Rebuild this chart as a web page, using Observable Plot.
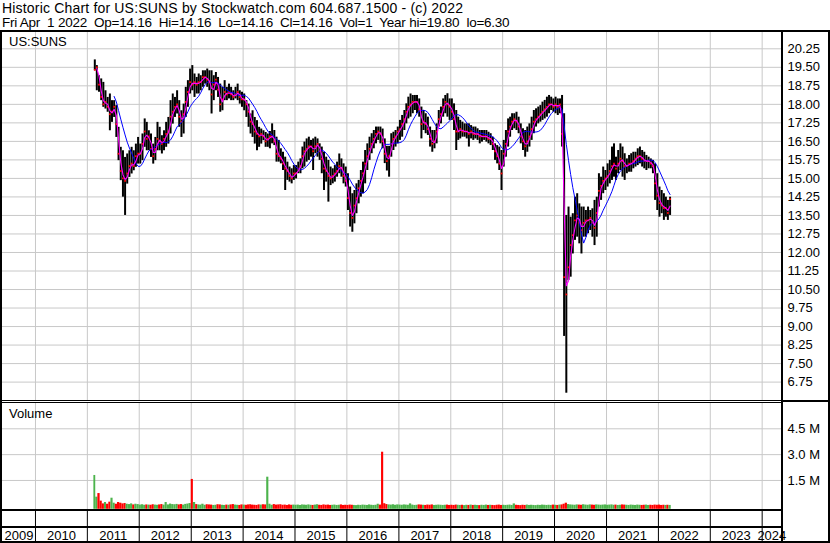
<!DOCTYPE html>
<html>
<head>
<meta charset="utf-8">
<script src="https://cdn.jsdelivr.net/npm/d3@7"></script>
<script src="https://cdn.jsdelivr.net/npm/@observablehq/plot@0.6"></script>
<style>
html,body{margin:0;padding:0;background:#fff;overflow:hidden;}
#wrap{position:relative;width:830px;height:543px;overflow:hidden;background:#fff;
  font-family:"Liberation Sans",Arial,sans-serif;color:#000;}
.txt{position:absolute;font-size:13px;line-height:15px;white-space:pre;color:#000;}
.hdr{position:absolute;line-height:16px;white-space:pre;color:#000;}
.ln{position:absolute;background:#000;}
.panel{position:absolute;left:0;}
.panel svg{display:block;overflow:visible;}
</style>
</head>
<body>
<div id="wrap">
  <div class="hdr" style="left:2px;top:0px;font-size:14px;letter-spacing:0.18px">Historic Chart for US:SUNS by Stockwatch.com 604.687.1500 - (c) 2022</div>
  <div class="hdr" style="left:2px;top:15px;font-size:13.5px;letter-spacing:-0.24px">Fri Apr  1 2022  Op=14.16  Hi=14.16  Lo=14.16  Cl=14.16  Vol=1  Year hi=19.80  lo=6.30</div>
  <div class="panel" id="price" style="top:32px"></div>
  <div class="panel" id="volume" style="top:403px"></div>
  <div class="panel" id="years" style="top:511px"></div>
  <div class="txt" style="left:9px;top:34px">US:SUNS</div>
  <div class="txt" style="left:9px;top:406px">Volume</div>
  <!-- frame lines -->
  <div class="ln" style="left:0;top:30px;width:830px;height:2px"></div>
  <div class="ln" style="left:0;top:30px;width:2px;height:513px"></div>
  <div class="ln" style="left:828px;top:30px;width:2px;height:513px"></div>
  <div class="ln" style="left:781px;top:30px;width:2px;height:513px"></div>
  <div class="ln" style="left:0;top:541px;width:830px;height:2px"></div>
  <div class="ln" style="left:0;top:400px;width:781px;height:1px"></div>
  <div class="ln" style="left:0;top:402px;width:781px;height:1px"></div>
  <div class="ln" style="left:781px;top:400px;width:49px;height:2px"></div>
  <div class="ln" style="left:0;top:509px;width:783px;height:2px"></div>
  <div class="ln" style="left:0;top:526px;width:783px;height:2px"></div>
</div>
<script>
// ---------- tick labels / categories ----------
const priceTicks = [20.25, 19.50, 18.75, 18.00, 17.25, 16.50, 15.75, 15.00, 14.25, 13.50, 12.75, 12.00, 11.25, 10.50, 9.75, 9.00, 8.25, 7.50, 6.75];
const volumeTicks = [1.5, 3.0, 4.5];           // millions
const years = [2009, 2010, 2011, 2012, 2013, 2014, 2015, 2016, 2017, 2018, 2019, 2020, 2021, 2022, 2023, 2024];
const xDomain = [new Date(2009, 4, 14), new Date(2024, 4, 16)];
// first period = second half of February 2011 (half-month index 3 of 2011)
const firstYear = 2011, firstHalfMonth = 3;

// ---------- half-monthly price values ----------
const high = [
  19.80,19.57,19.16,19.03,18.89,18.55,18.28,18.42,18.15,18.15,17.95,17.07,16.26,16.12,15.85,15.99,16.12,16.26,16.12,16.39,16.66,
  16.39,16.80,17.41,17.27,16.93,16.80,16.39,16.66,17.27,17.07,16.73,16.93,17.27,17.47,18.15,18.42,18.28,18.55,18.15,17.74,18.01,18.69,18.96,19.43,
  19.57,19.23,19.09,19.23,19.16,19.36,19.36,19.43,19.36,19.36,19.16,19.29,19.09,18.82,18.69,18.96,18.69,18.82,18.69,18.55,18.69,18.82,18.55,18.49,
  18.42,18.15,18.01,17.61,17.74,17.47,17.34,17.07,17.00,16.93,16.86,16.80,16.90,17.21,16.94,16.67,16.54,16.20,16.06,15.86,15.66,15.46,15.39,15.52,
  15.52,15.66,15.79,16.27,16.47,16.60,16.67,16.54,16.60,16.67,16.60,16.40,16.27,16.06,15.86,15.73,15.46,15.39,15.52,15.66,15.99,15.79,15.59,15.46,
  15.19,14.65,14.38,14.51,14.78,14.92,15.32,15.66,16.13,16.40,16.67,16.81,16.94,17.08,17.08,17.08,17.00,16.60,16.30,16.30,16.81,16.87,16.94,17.08,
  17.35,17.55,17.75,18.02,18.29,18.42,18.36,18.36,18.36,18.22,17.89,17.75,17.62,17.48,17.08,16.94,16.94,17.21,17.75,17.89,18.22,18.36,18.43,18.22,
  18.22,18.02,17.75,17.48,17.35,17.28,17.21,17.21,17.21,17.14,17.08,17.08,17.01,16.94,16.94,16.94,16.94,16.87,16.81,16.67,16.40,16.33,16.27,16.13,
  16.54,16.94,17.41,17.48,17.62,17.62,17.68,17.48,17.21,17.01,16.94,17.08,17.21,17.48,17.75,17.82,17.89,17.95,18.09,18.16,18.29,18.36,18.29,18.22,
  18.29,18.22,18.22,18.36,17.62,13.50,13.84,13.43,13.57,14.24,14.38,13.97,13.84,13.84,13.70,13.84,13.70,13.77,14.11,14.24,15.19,15.05,15.46,15.32,
  15.59,15.73,16.27,16.40,15.86,16.13,16.40,16.27,16.00,15.79,15.93,16.00,16.06,16.06,16.20,16.27,16.13,16.06,15.93,15.86,15.79,15.73,15.59,15.19,
  14.65,14.51,14.38,14.24,14.11,14.24
];
const low = [
  19.36,18.55,18.49,18.15,17.88,17.81,17.68,16.93,17.27,17.47,16.66,15.72,14.91,14.24,13.50,14.77,15.04,15.18,15.31,15.45,15.58,
  15.58,15.72,16.26,16.12,16.12,15.85,15.58,15.72,16.12,16.12,15.99,16.12,16.26,16.39,16.80,17.20,17.47,17.61,17.07,16.66,16.80,17.47,17.88,18.42,
  18.55,18.28,18.42,18.42,18.55,18.69,18.82,18.69,18.55,17.61,18.15,18.55,18.28,17.68,17.74,18.15,18.15,18.22,18.15,18.15,18.22,18.15,18.01,17.88,
  17.74,17.47,17.07,16.80,16.66,16.39,16.12,16.26,16.39,16.53,16.26,16.26,16.20,16.40,16.33,15.66,15.66,15.59,15.32,14.51,14.92,14.85,14.78,14.92,
  14.98,15.19,15.19,15.39,15.46,15.66,15.73,15.86,15.32,16.00,15.86,15.73,15.19,14.51,14.85,14.04,14.71,14.78,14.85,15.05,15.19,15.05,14.78,14.65,
  13.70,13.03,12.82,13.16,13.57,13.97,14.24,14.38,14.78,15.32,15.73,16.00,16.20,16.40,16.54,16.40,16.20,15.60,15.30,15.05,15.86,16.13,16.27,16.40,
  16.54,16.67,16.94,17.21,17.41,17.48,17.62,17.75,17.62,17.48,16.60,16.94,16.81,16.74,16.27,16.06,16.20,16.40,17.08,17.21,17.48,17.62,17.48,17.35,
  17.35,16.94,16.13,16.54,16.60,16.67,16.67,16.60,16.27,16.60,16.54,16.60,16.54,16.40,16.47,16.54,16.47,16.40,16.33,16.13,15.73,15.59,15.32,14.51,
  15.46,15.86,16.27,16.67,16.94,17.01,16.94,16.81,16.40,16.13,15.86,16.06,16.27,16.54,16.81,17.08,17.21,17.28,17.35,17.41,17.48,17.62,17.75,17.68,
  17.62,17.55,17.62,16.27,8.60,6.30,10.87,11.00,11.94,12.49,12.62,12.35,11.94,12.62,12.62,12.76,12.89,12.62,12.28,12.62,13.84,14.11,14.38,14.51,
  14.65,14.78,14.92,15.05,14.92,15.19,15.32,15.05,14.92,15.19,15.25,15.25,15.39,15.46,15.52,15.59,15.46,15.39,15.32,15.39,15.39,15.19,14.11,13.70,
  13.43,13.57,13.30,13.43,13.30,13.50
];
const close = [
  19.4,19.5,18.8,18.3,18.0,18.1,17.9,17.6,17.7,17.9,17.2,16.0,15.3,15.0,14.9,15.2,15.5,15.6,15.5,15.9,16.0,
  16.0,16.4,16.9,16.6,16.7,16.2,15.9,16.2,16.6,16.5,16.4,16.6,16.8,16.9,17.5,17.7,17.9,18.0,17.5,17.3,17.6,18.1,18.5,18.9,
  18.8,18.9,18.8,18.9,18.9,19.1,19.1,19.0,18.9,18.4,18.8,19.0,18.6,18.0,18.2,18.5,18.4,18.5,18.4,18.3,18.4,18.5,18.3,18.2,
  18.2,18.0,17.7,17.3,17.2,16.9,16.8,16.7,16.8,16.7,16.5,16.6,16.7,16.7,16.5,16.0,15.9,15.8,15.6,15.4,15.3,15.1,15.0,15.2,
  15.2,15.4,15.5,15.9,16.1,16.2,16.3,16.3,16.1,16.3,16.4,16.1,15.8,15.4,15.3,15.1,15.0,15.1,15.2,15.3,15.5,15.4,15.1,14.9,
  14.2,13.6,13.4,13.9,14.2,14.6,14.9,15.2,15.6,15.9,16.2,16.4,16.6,16.8,16.9,16.8,16.5,16.0,15.7,15.9,16.4,16.6,16.7,16.9,
  17.0,17.2,17.4,17.7,17.9,18.0,18.1,18.1,18.1,17.8,17.2,17.3,17.2,17.0,16.6,16.4,16.5,16.9,17.4,17.6,17.9,18.1,18.0,17.9,
  17.7,17.4,16.9,16.9,17.0,16.9,16.9,16.9,16.8,16.9,16.8,16.8,16.8,16.7,16.7,16.7,16.7,16.6,16.6,16.4,16.1,15.9,15.6,15.2,
  16.0,16.4,16.9,17.1,17.3,17.4,17.3,17.1,16.7,16.5,16.3,16.5,16.7,17.0,17.3,17.4,17.5,17.6,17.7,17.8,17.9,18.0,18.0,17.9,
  18.0,17.9,18.0,16.8,11.0,10.3,11.4,12.3,12.7,13.3,13.5,13.2,12.9,13.2,13.3,13.3,13.4,13.2,13.0,13.6,14.5,14.7,14.9,15.0,
  15.1,15.3,15.5,15.6,15.4,15.6,15.8,15.7,15.5,15.5,15.6,15.6,15.7,15.8,15.9,15.9,15.8,15.7,15.7,15.7,15.6,15.5,14.8,14.3,
  14.0,13.9,13.8,13.8,13.6,14.16
];
// ---------- half-monthly volume, millions of shares ----------
const volume = [
  1.79,0.53,0.74,0.30,0.14,0.22,0.12,0.24,0.47,0.18,0.12,0.22,0.18,0.14,0.16,0.12,0.10,0.14,0.08,0.12,0.10,
  0.07,0.09,0.06,0.08,0.07,0.06,0.09,0.07,0.06,0.08,0.10,0.07,0.22,0.08,0.13,0.10,0.09,0.11,0.08,0.10,0.07,0.11,0.13,0.16,
  1.56,0.22,0.10,0.08,0.07,0.12,0.06,0.09,0.08,0.07,0.05,0.06,0.09,0.08,0.06,0.05,0.07,0.06,0.08,0.10,0.07,0.06,0.05,0.08,
  0.07,0.06,0.08,0.09,0.07,0.06,0.05,0.08,0.07,0.09,0.08,1.69,0.12,0.06,0.10,0.07,0.08,0.09,0.06,0.07,0.05,0.08,0.06,0.07,
  0.06,0.07,0.05,0.08,0.07,0.06,0.08,0.06,0.05,0.07,0.09,0.06,0.05,0.08,0.06,0.07,0.05,0.06,0.07,0.05,0.06,0.08,0.05,0.06,
  0.05,0.07,0.06,0.05,0.04,0.06,0.05,0.07,0.06,0.05,0.08,0.06,0.05,0.06,0.12,0.07,3.14,0.15,0.10,0.08,0.07,0.09,0.06,0.08,
  0.07,0.06,0.08,0.07,0.06,0.14,0.07,0.05,0.06,0.08,0.07,0.06,0.05,0.07,0.06,0.08,0.05,0.06,0.07,0.06,0.05,0.06,0.07,0.05,
  0.06,0.05,0.07,0.06,0.05,0.06,0.04,0.06,0.05,0.07,0.05,0.06,0.05,0.04,0.06,0.05,0.07,0.05,0.06,0.05,0.04,0.06,0.07,0.05,
  0.06,0.05,0.06,0.07,0.05,0.14,0.06,0.05,0.04,0.06,0.05,0.07,0.05,0.06,0.05,0.04,0.06,0.05,0.07,0.06,0.05,0.06,0.05,0.07,
  0.06,0.05,0.07,0.08,0.12,0.18,0.10,0.08,0.07,0.06,0.08,0.07,0.06,0.09,0.07,0.06,0.08,0.07,0.06,0.08,0.07,0.06,0.07,0.08,
  0.06,0.07,0.08,0.06,0.07,0.05,0.06,0.08,0.07,0.06,0.05,0.07,0.06,0.05,0.07,0.06,0.05,0.06,0.07,0.05,0.06,0.05,0.07,0.06,
  0.07,0.05,0.06,0.05,0.06,0.05
];

// ---------- build table ----------
const rows = high.map((h, i) => {
  const k = firstHalfMonth + i;
  const yr = firstYear + Math.floor(k / 24);
  const m = Math.floor((k % 24) / 2);
  const second = k % 2 === 1;
  const start = new Date(yr, m, second ? 16 : 1);
  const end = second ? new Date(yr, m + 1, 1) : new Date(yr, m, 16);
  return {
    start, end, date: new Date((+start + +end) / 2),
    high: h, low: low[i], close: close[i], volume: volume[i],
    up: i === 0 || close[i] >= close[i - 1]
  };
});

const yearStarts = years.slice(1).map(y => new Date(y, 0, 1));
const yearLabels = years.map(y => {
  const a = Math.max(+new Date(y, 0, 1), +xDomain[0]);
  const b = Math.min(+new Date(y + 1, 0, 1), +xDomain[1]);
  return {label: String(y), mid: new Date((a + b) / 2)};
});

const FONT = "'Liberation Sans', Arial, sans-serif";
const GRID = "#c8c8c8";
const RED = "#ff0000", GREEN = "#4cb34c";
const common = {
  width: 830, marginLeft: 2, marginRight: 49, marginTop: 0, marginBottom: 0,
  style: {fontFamily: FONT, fontSize: "13px", background: "transparent", color: "#000", overflow: "visible"}
};

const priceChart = Plot.plot({
  ...common,
  height: 368,
  x: {type: "time", domain: xDomain, axis: null},
  y: {domain: [6.75, 20.25], range: [349.6, 16.3], axis: null},
  marks: [
    Plot.ruleY(priceTicks, {stroke: GRID, strokeWidth: 1}),
    Plot.ruleX(yearStarts, {stroke: GRID, strokeWidth: 1}),
    Plot.ruleX(rows, {x: "date", y1: "low", y2: "high", stroke: "#000", strokeWidth: 2}),
    Plot.dot(rows, {x: "date", y: "close", symbol: "square", r: 1, fill: RED}),
    Plot.lineY(rows, Plot.windowY({k: 10, anchor: "end", strict: true}, {x: "date", y: "close", stroke: "#0000ff", strokeWidth: 1})),
    Plot.lineY(rows, Plot.windowY({k: 2, anchor: "end", strict: true}, {x: "date", y: "close", stroke: "#ff00ff", strokeWidth: 1.1})),
    Plot.text(priceTicks, {y: d => d, text: d => d.toFixed(2), frameAnchor: "right", textAnchor: "start", lineAnchor: "middle", dx: 6, fill: "#000", fontSize: 13})
  ]
});
document.getElementById("price").appendChild(priceChart);

const volumeChart = Plot.plot({
  ...common,
  height: 106,
  x: {type: "time", domain: xDomain, axis: null},
  y: {domain: [0, 4.5], range: [102.8, 25.3], axis: null},
  marks: [
    Plot.ruleY(volumeTicks, {stroke: GRID, strokeWidth: 1}),
    Plot.ruleX(yearStarts, {stroke: GRID, strokeWidth: 1}),
    Plot.rectY(rows, {x1: "start", x2: "end", y1: 0, y2: "volume", fill: d => d.up ? GREEN : RED, insetBottom: -3}),
    Plot.text(volumeTicks, {y: d => d, text: d => d.toFixed(1) + " M", frameAnchor: "right", textAnchor: "start", lineAnchor: "middle", dx: 6, fill: "#000", fontSize: 13})
  ]
});
document.getElementById("volume").appendChild(volumeChart);

const yearChart = Plot.plot({
  ...common,
  height: 30,
  x: {type: "time", domain: xDomain, axis: null},
  marks: [
    Plot.ruleX(yearStarts, {stroke: "#000", strokeWidth: 1}),
    Plot.text(yearLabels, {x: "mid", text: "label", frameAnchor: "top", lineAnchor: "middle", dy: 24, fill: "#000", fontSize: 13})
  ]
});
document.getElementById("years").appendChild(yearChart);
</script>
</body>
</html>
